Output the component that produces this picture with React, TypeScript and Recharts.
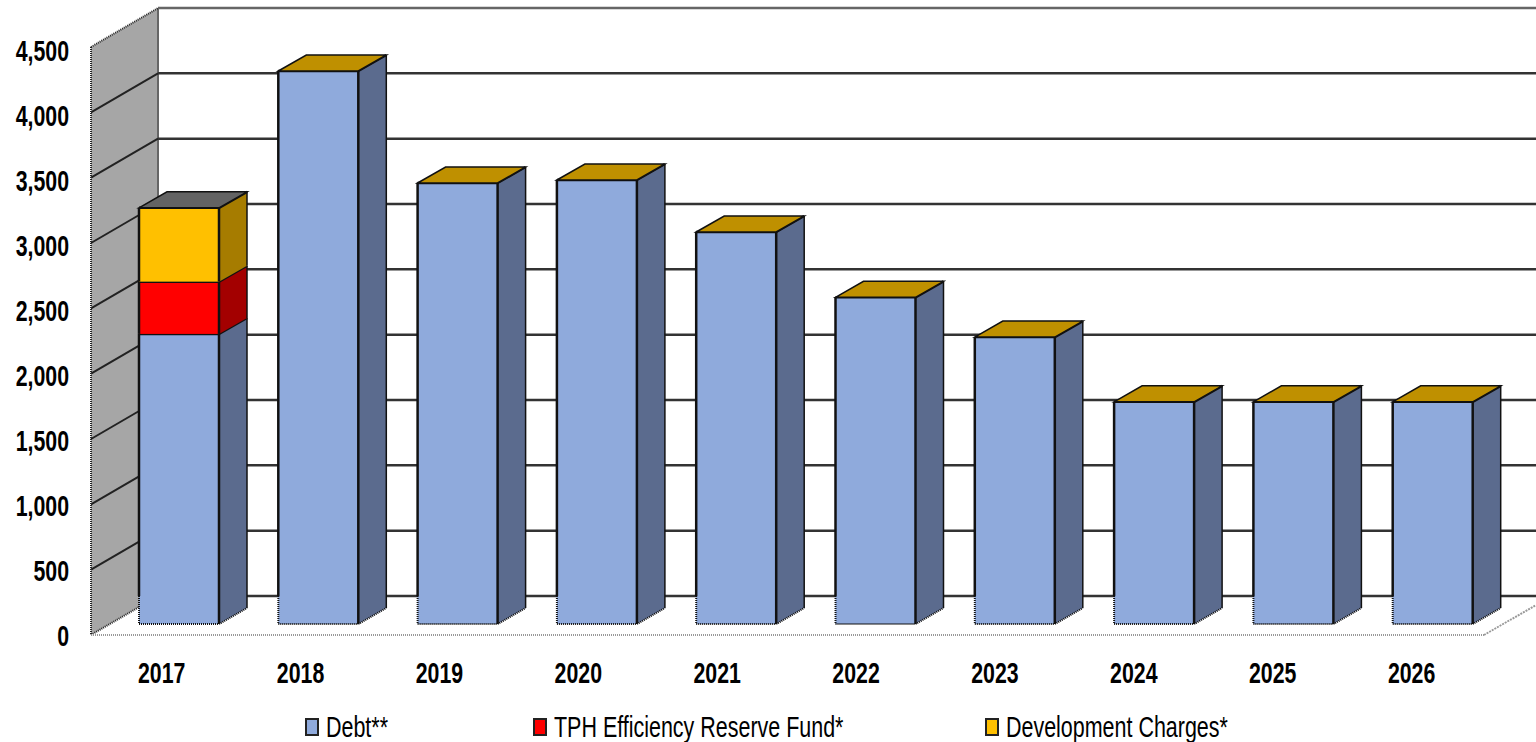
import { BarChart, Bar, XAxis, YAxis, CartesianGrid, Legend } from 'recharts'

const years = ['2017', '2018', '2019', '2020', '2021', '2022', '2023', '2024', '2025', '2026']
const debt = [2220, 4232, 3375, 3398, 3000, 2500, 2196, 1700, 1700, 1700]
const reserveFund = [400, 0, 0, 0, 0, 0, 0, 0, 0, 0]
const developmentCharges = [565, 0, 0, 0, 0, 0, 0, 0, 0, 0]
const yTicks = [0, 500, 1000, 1500, 2000, 2500, 3000, 3500, 4000, 4500]

const chartData = years.map((year, i) => ({
  year,
  debt: debt[i],
  reserve: reserveFund[i],
  charges: developmentCharges[i],
}))

const FONT = '"Liberation Sans", Arial, sans-serif'
const NARROW = 0.735
const LEGEND_NARROW = 0.74
const PLOT_TOP = 47
const PLOT_BOTTOM = 635
const PLOT_RIGHT = 1484

// 3d offsets: wall depth and how far the bars sit behind the front plane
const WALL_X = 67
const WALL_Y = -39
const BAR_X = 18
const BAR_Y = -11
const DEPTH_X = 28
const DEPTH_Y = -16

const legendX = [305, 533, 985]

function Wall(props: any) {
  const { x1, y1 } = props
  if (Math.abs(y1 - PLOT_TOP) > 1) return <g key={y1} />
  const bx = x1 + WALL_X
  return (
    <g key="wall">
      <polygon
        points={`${x1},${PLOT_BOTTOM} ${bx},${PLOT_BOTTOM + WALL_Y} ${bx},${PLOT_TOP + WALL_Y} ${x1},${PLOT_TOP}`}
        fill="#A6A6A6"
      />
      <line x1={bx} y1={PLOT_TOP + WALL_Y} x2={bx} y2={PLOT_BOTTOM + WALL_Y} stroke="#666" strokeWidth={2} />
      <line x1={x1} y1={PLOT_TOP} x2={bx} y2={PLOT_TOP + WALL_Y} stroke="#222" strokeWidth={2} strokeDasharray="1 1" />
      <line x1={x1} y1={PLOT_BOTTOM} x2={bx} y2={PLOT_BOTTOM + WALL_Y} stroke="#222" strokeWidth={2} strokeDasharray="1 1" />
      <line x1={x1} y1={PLOT_TOP} x2={x1} y2={PLOT_BOTTOM} stroke="#222" strokeWidth={2} strokeDasharray="1 1" />
      <line
        x1={PLOT_RIGHT}
        y1={PLOT_BOTTOM}
        x2={PLOT_RIGHT + 52}
        y2={PLOT_BOTTOM - 30}
        stroke="#999"
        strokeWidth={2}
        strokeDasharray="2 1"
      />
    </g>
  )
}

function GridLine(props: any) {
  const { x1, y1 } = props
  const bx = x1 + WALL_X
  const by = y1 + WALL_Y
  const isTop = Math.abs(y1 - PLOT_TOP) < 1
  const isBottom = Math.abs(y1 - PLOT_BOTTOM) < 1
  return (
    <g key={y1}>
      {!isTop && !isBottom && <line x1={x1} y1={y1} x2={bx} y2={by} stroke="#222" strokeWidth={2} />}
      <line x1={bx} y1={by} x2={1536} y2={by} stroke={isTop ? '#666' : '#333'} strokeWidth={2.5} />
    </g>
  )
}

function makeBlock(front: string, side: string, kind: 'base' | 'middle' | 'top') {
  return function Block(props: any) {
    const { x, y, width, height } = props
    const left = x + BAR_X
    const right = left + width
    const top = y + BAR_Y
    const bottom = top + height
    const backX = right + DEPTH_X
    const edge = { stroke: '#111', strokeWidth: 2.5 }
    // anything under the back floor line is drawn with the dotted edge
    const solidEnd = kind === 'base' ? bottom - 28 : bottom
    const capFill = height > 0 ? '#636363' : '#BF9000'
    return (
      <g>
        {height > 0 && (
          <>
            <polygon
              points={`${right},${top} ${backX},${top + DEPTH_Y} ${backX},${bottom + DEPTH_Y} ${right},${bottom}`}
              fill={side}
            />
            <rect x={left} y={top} width={width} height={height} fill={front} />
            <line x1={left} y1={top} x2={left} y2={solidEnd} {...edge} />
            <line x1={right} y1={top} x2={right} y2={bottom} {...edge} />
            <line x1={left} y1={top} x2={right} y2={top} {...edge} />
            <line x1={backX} y1={top + DEPTH_Y} x2={backX} y2={bottom + DEPTH_Y} stroke="#111" strokeWidth={1.5} />
            <line x1={right} y1={top} x2={backX} y2={top + DEPTH_Y} {...edge} />
          </>
        )}
        {kind === 'base' && (
          <g stroke="#111" strokeWidth={2} strokeDasharray="1 1">
            <line x1={left} y1={solidEnd} x2={left} y2={bottom} />
            <line x1={left} y1={bottom} x2={right} y2={bottom} />
            <line x1={right} y1={bottom} x2={backX} y2={bottom + DEPTH_Y} />
          </g>
        )}
        {kind === 'top' && (
          <polygon
            points={`${left},${top} ${left + DEPTH_X},${top + DEPTH_Y} ${backX},${top + DEPTH_Y} ${right},${top}`}
            fill={capFill}
            stroke="#111"
            strokeWidth={1.5}
          />
        )}
      </g>
    )
  }
}

// no narrow face is installed, so the labels get squeezed horizontally
function YTick({ y, payload }: any) {
  const labelY = y + 1 + (PLOT_BOTTOM - y) * 0.005
  return (
    <text
      transform={`translate(69,${labelY}) scale(${NARROW},1)`}
      textAnchor="end"
      dominantBaseline="central"
      fontFamily={FONT}
      fontWeight="bold"
      fontSize={29}
      fill="#000"
    >
      {Number(payload.value).toLocaleString('en-US')}
    </text>
  )
}

function XTick({ x, payload }: any) {
  const labelX = x + 1 - (x - 160) * 0.003
  return (
    <text
      transform={`translate(${labelX},673) scale(${NARROW},1)`}
      textAnchor="middle"
      dominantBaseline="central"
      fontFamily={FONT}
      fontWeight="bold"
      fontSize={29}
      fill="#000"
    >
      {payload.value}
    </text>
  )
}

function ChartLegend({ payload }: any) {
  return (
    <div style={{ position: 'relative', width: 1536, height: 30 }}>
      {(payload || []).map((item: any, i: number) => (
        <div
          key={item.value}
          style={{
            position: 'absolute',
            left: legendX[i],
            top: 0,
            display: 'flex',
            alignItems: 'center',
            whiteSpace: 'nowrap',
            fontFamily: FONT,
            fontSize: 29,
            lineHeight: '30px',
            color: '#000',
          }}
        >
          <span
            style={{
              display: 'inline-block',
              width: 10,
              height: 14,
              background: item.color,
              border: '2px solid #222',
              marginRight: 7,
            }}
          />
          <span style={{ display: 'inline-block', transform: `scaleX(${LEGEND_NARROW})`, transformOrigin: 'left center' }}>
            {item.value}
          </span>
        </div>
      ))}
    </div>
  )
}

export default function App() {
  return (
    <div style={{ position: 'absolute', left: 0, top: 0, width: 1536, height: 742, overflow: 'hidden' }}>
      <BarChart
        width={1536}
        height={742}
        data={chartData}
        margin={{ top: PLOT_TOP, right: 1536 - PLOT_RIGHT, left: 0, bottom: 0 }}
        barCategoryGap={0}
        barSize={80}
      >
        <CartesianGrid horizontal={Wall} vertical={false} />
        <CartesianGrid horizontal={GridLine} vertical={false} />
        <XAxis
          dataKey="year"
          height={77}
          tickLine={false}
          axisLine={{ stroke: '#999', strokeWidth: 2, strokeDasharray: '1 1' }}
          tick={<XTick />}
        />
        <YAxis
          width={91}
          domain={[0, 4500]}
          ticks={yTicks}
          interval={0}
          tickLine={false}
          axisLine={false}
          tick={<YTick />}
        />
        <Legend
          content={<ChartLegend />}
          itemSorter={null}
          wrapperStyle={{ left: 0, top: 712, width: 1536 }}
        />
        <Bar
          dataKey="debt"
          name="Debt**"
          stackId="a"
          fill="#8FAADC"
          isAnimationActive={false}
          shape={makeBlock('#8FAADC', '#5B6B8E', 'base')}
        />
        <Bar
          dataKey="reserve"
          name="TPH Efficiency Reserve Fund*"
          stackId="a"
          fill="#FF0000"
          isAnimationActive={false}
          shape={makeBlock('#FF0000', '#A30000', 'middle')}
        />
        <Bar
          dataKey="charges"
          name="Development Charges*"
          stackId="a"
          fill="#FFC000"
          isAnimationActive={false}
          shape={makeBlock('#FFC000', '#A67C00', 'top')}
        />
      </BarChart>
    </div>
  )
}
